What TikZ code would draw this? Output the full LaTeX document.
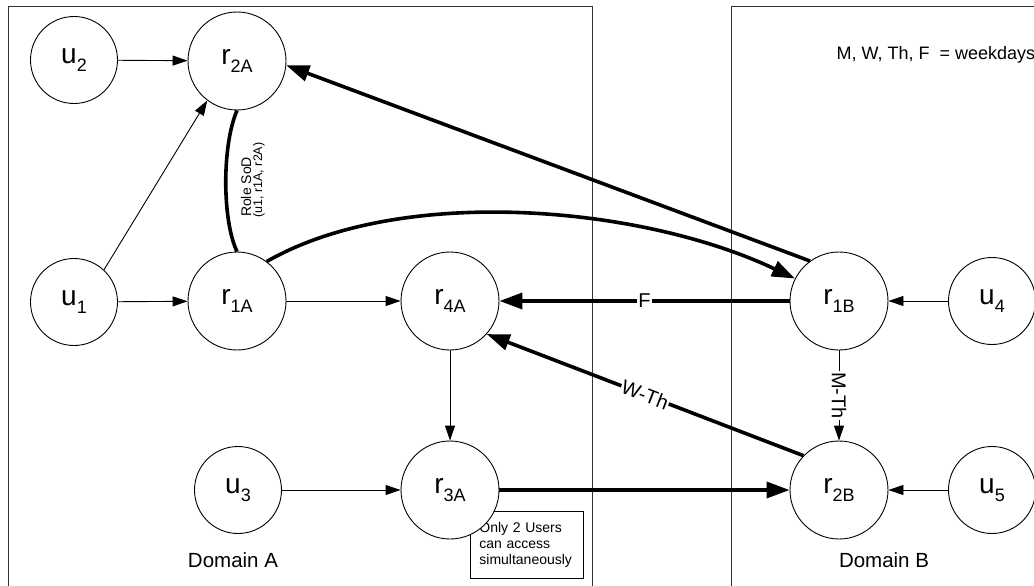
\documentclass[tikz,border=0pt]{standalone}
\usepackage{fontspec}
\setmainfont{Liberation Sans}
\usetikzlibrary{arrows.meta}
\newcommand\lsub[1]{\raisebox{-0.3em}{\fontsize{18}{18}\selectfont #1}}
\begin{document}
\begin{tikzpicture}[x=1pt,y=-1pt,
  user/.style={circle,draw,line width=0.9pt,fill=white,minimum size=87pt,inner sep=0pt,font=\fontsize{28}{30}\selectfont},
  role/.style={circle,draw,line width=0.9pt,fill=white,minimum size=98pt,inner sep=0pt,font=\fontsize{28}{30}\selectfont},
  thinarr/.style={line width=0.9pt,-{Triangle[length=15pt,width=10pt]}},
  thickarr/.style={line width=3.6pt,-{Triangle[length=23pt,width=16pt]}},
  thickline/.style={line width=3.6pt},
  domainbox/.style={draw=black!80,line width=1pt},
  lbl/.style={fill=white,inner sep=1pt,font=\fontsize{20}{22}\selectfont},
  dlbl/.style={font=\fontsize{20.5}{22}\selectfont}]
\clip (0,0) rectangle (1034,586);
% domains
\draw[domainbox] (8,7) rectangle (592,620);
\draw[domainbox] (731,7) rectangle (1060,620);
\node[dlbl] (dA) at (233,560) {Domain A};
\node[dlbl] (dB) at (884,560) {Domain B};
\node[anchor=west,font=\fontsize{18}{20}\selectfont] (wk) at (833,55) {M, W, Th, F\ \ = weekdays};
% note
\node[draw,line width=0.8pt,anchor=north west,minimum width=113pt,minimum height=67pt,
      inner xsep=9pt,text width=95pt,align=left,font=\fontsize{14}{16}\selectfont] (note) at (470,511)
      {Only 2 Users\\can access\\simultaneously};
% nodes
\node[user] (u2) at (74,60) {u\lsub{2}};
\node[role] (r2A) at (237,61) {r\lsub{2A}};
\node[user] (u1) at (74,302) {u\lsub{1}};
\node[role] (r1A) at (237,301) {r\lsub{1A}};
\node[role] (r4A) at (450,301) {r\lsub{4A}};
\node[role] (r1B) at (839,301) {r\lsub{1B}};
\node[user] (u4) at (992,301) {u\lsub{4}};
\node[user] (u3) at (238,490) {u\lsub{3}};
\node[role] (r3A) at (450,490) {r\lsub{3A}};
\node[role] (r2B) at (839,490) {r\lsub{2B}};
\node[user] (u5) at (992,490) {u\lsub{5}};
% thin edges
\draw[thinarr] (u2) -- (r2A);
\draw[thinarr] (u1.47) -- (r2A.233);
\draw[thinarr] (u1) -- (r1A);
\draw[thinarr] (r1A) -- (r4A);
\draw[thinarr] (r4A) -- (r3A);
\draw[thinarr] (u3) -- (r3A);
\draw[thinarr] (u4) -- (r1B);
\draw[thinarr] (u5) -- (r2B);
\draw[thinarr] (r1B) -- node[lbl,rotate=-90] {M-Th} (r2B);
% thick edges
\draw[thickarr] (r1B.126) -- (r2A.-5);
\draw[thickarr] (r1A.53) .. controls (400,185) and (640,205) .. (r1B.153);
\draw[thickarr] (r1B) -- node[lbl] {F} (r4A);
\draw[thickarr] (r2B.136) -- node[lbl,sloped] {W-Th} (r4A.-42);
\draw[thickarr] (r3A) -- (r2B);
% role SoD
\draw[thickline] (r1A.north) .. controls (222,220) and (222,145) .. (r2A.south);
\node[rotate=90,font=\fontsize{14}{15}\selectfont] (sod) at (246,187) {Role SoD};
\node[rotate=90,font=\fontsize{12.5}{13}\selectfont] (sodargs) at (259,180) {(u1, r1A, r2A)};
\end{tikzpicture}
\end{document}
